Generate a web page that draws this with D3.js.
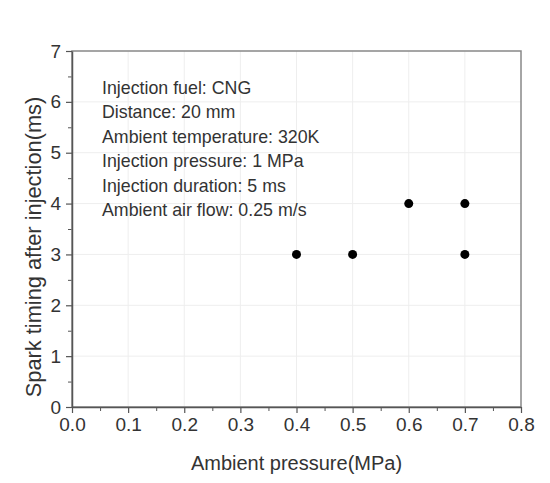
<!DOCTYPE html>
<html lang="en">
<head>
<meta charset="UTF-8">
<title>Spark timing vs ambient pressure</title>
<script src="https://d3js.org/d3.v7.min.js"></script>
<style>
  body { margin: 0; background: #fff; }
  text { font-family: "Liberation Sans", Arial, sans-serif; fill: #333; }
  .tick text { font-size: 19px; }
  .axis-title { font-size: 20px; }
  .y-title { font-size: 21.8px; }
  .note { font-size: 17.8px; }
</style>
</head>
<body>
<svg width="550" height="483"></svg>
<script>
// Data
const pressure = [0.4, 0.5, 0.6, 0.7, 0.7];
const sparkTiming = [3, 3, 4, 4, 3];
const xTicks = [0, 0.1, 0.2, 0.3, 0.4, 0.5, 0.6, 0.7, 0.8];
const yTicks = [0, 1, 2, 3, 4, 5, 6, 7];
const notes = [
  "Injection fuel: CNG",
  "Distance: 20 mm",
  "Ambient temperature: 320K",
  "Injection pressure: 1 MPa",
  "Injection duration: 5 ms",
  "Ambient air flow: 0.25 m/s"
];

const margin = {top: 51, right: 29, bottom: 76, left: 72},
      width = 550 - margin.left - margin.right,
      height = 483 - margin.top - margin.bottom;

const svg = d3.select("svg")
  .append("g")
  .attr("transform", `translate(${margin.left},${margin.top})`);

const x = d3.scaleLinear().domain([0, 0.8]).range([0, width]);
const y = d3.scaleLinear().domain([0, 7]).range([height, 0]);

// faint grid
svg.append("g")
  .selectAll("line")
  .data(xTicks.slice(1, -1))
  .join("line")
  .attr("x1", d => x(d)).attr("x2", d => x(d))
  .attr("y1", 0).attr("y2", height)
  .attr("stroke", "#eeeeee");
svg.append("g")
  .selectAll("line")
  .data(yTicks.slice(1, -1))
  .join("line")
  .attr("y1", d => y(d)).attr("y2", d => y(d))
  .attr("x1", 0).attr("x2", width)
  .attr("stroke", "#eeeeee");

// minor ticks
const xMinor = d3.range(0.05, 0.8, 0.1);
const yMinor = d3.range(0.5, 7, 1);
svg.append("g")
  .attr("transform", `translate(0,${height})`)
  .call(d3.axisBottom(x).tickValues(xMinor).tickSize(4).tickFormat(""))
  .call(g => g.select(".domain").remove())
  .selectAll("line").attr("stroke", "#555");
svg.append("g")
  .call(d3.axisLeft(y).tickValues(yMinor).tickSize(4).tickFormat(""))
  .call(g => g.select(".domain").remove())
  .selectAll("line").attr("stroke", "#555");

// frame (top/right)
svg.append("rect")
  .attr("width", width).attr("height", height)
  .attr("fill", "none").attr("stroke", "#888").attr("stroke-width", 1.5);

// axes
const xAxis = svg.append("g")
  .attr("transform", `translate(0,${height})`)
  .call(d3.axisBottom(x).tickValues(xTicks).tickSize(6).tickSizeOuter(0).tickPadding(5).tickFormat(d3.format(".1f")));
const yAxis = svg.append("g")
  .call(d3.axisLeft(y).tickValues(yTicks).tickSize(6).tickSizeOuter(0).tickPadding(5).tickFormat(d3.format("d")));
[xAxis, yAxis].forEach(a => {
  a.select(".domain").attr("stroke", "#555").attr("stroke-width", 1.5);
  a.selectAll(".tick line").attr("stroke", "#555").attr("stroke-width", 1.2);
  a.selectAll(".tick text").attr("fill", "#333");
});

// points
svg.append("g")
  .selectAll("circle")
  .data(pressure.map((p, i) => [p, sparkTiming[i]]))
  .join("circle")
  .attr("cx", d => x(d[0]))
  .attr("cy", d => y(d[1]))
  .attr("r", 4.5)
  .attr("fill", "#000");

// annotation
svg.append("g")
  .selectAll("text")
  .data(notes)
  .join("text")
  .attr("class", "note")
  .attr("x", 30)
  .attr("y", (d, i) => 43 + i * 24.4)
  .text(d => d);

// axis titles
svg.append("text")
  .attr("class", "axis-title")
  .attr("text-anchor", "middle")
  .attr("x", width / 2)
  .attr("y", height + 63)
  .text("Ambient pressure(MPa)");
svg.append("text")
  .attr("class", "y-title")
  .attr("text-anchor", "middle")
  .attr("transform", `translate(-31,${height / 2 + 18}) rotate(-90)`)
  .text("Spark timing after injection(ms)");
</script>
</body>
</html>
